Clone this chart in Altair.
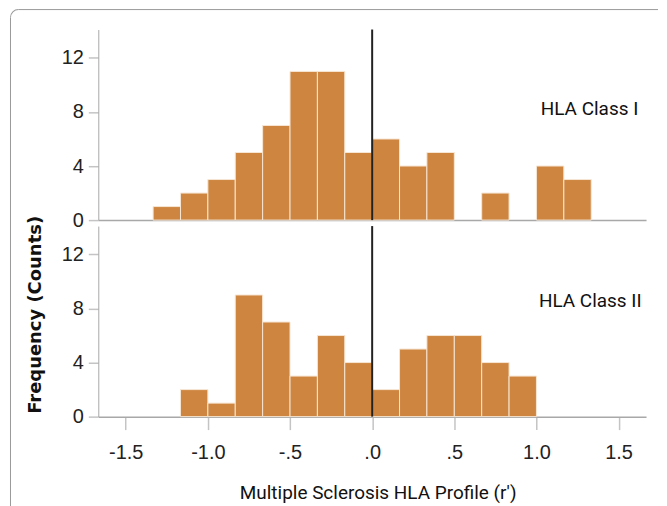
import altair as alt
import pandas as pd

# Histogram bins (width 1/6) and counts
bin_starts = [-1.3333, -1.1667, -1.0, -0.8333, -0.6667, -0.5, -0.3333, -0.1667,
              0.0, 0.1667, 0.3333, 0.5, 0.6667, 0.8333, 1.0, 1.1667]
bin_ends = [-1.1667, -1.0, -0.8333, -0.6667, -0.5, -0.3333, -0.1667, 0.0,
            0.1667, 0.3333, 0.5, 0.6667, 0.8333, 1.0, 1.1667, 1.3333]
class1_counts = [1, 2, 3, 5, 7, 11, 11, 5, 6, 4, 5, 0, 2, 0, 4, 3]
class2_counts = [0, 2, 1, 9, 7, 3, 6, 4, 2, 5, 6, 6, 4, 3, 0, 0]

panel_labels = ["HLA Class I", "HLA Class II"]
label_x = [1.62, 1.64]
label_y = [8.2, 8.55]

x_tick_values = [-1.5, -1.0, -0.5, 0.0, 0.5, 1.0, 1.5]
x_tick_labels = ["-1.5", "-1.0", "-.5", ".0", ".5", "1.0", "1.5"]
y_tick_values = [0, 4, 8, 12]

x_domain = [-1.667, 1.667]
y_domain = [0, 14.1]

BAR = "#CD853F"
AXIS_GRAY = "#a8a8a8"
FRAME_GRAY = "#9a9a9a"
TICK_FONT = "Liberation Sans Narrow, Arial Narrow, Liberation Sans, sans-serif"
TEXT_FONT = "Roboto, sans-serif"
YTITLE_FONT = "DejaVu Sans, sans-serif"

label_expr = " : ".join(
    f"datum.value == {v} ? '{t}'" for v, t in zip(x_tick_values, x_tick_labels)
) + " : ''"


def make_panel(counts, label, lx, ly, bottom, with_frame):
    df = pd.DataFrame({"start": bin_starts, "end": bin_ends, "count": counts})
    df = df[df["count"] > 0].copy()
    df["zero"] = 0

    if bottom:
        x_axis = alt.Axis(values=x_tick_values, labelExpr=label_expr, title="Multiple Sclerosis HLA Profile (r')",
                          grid=False, tickSize=13, tickColor="#c4c4c4", tickWidth=1.5,
                          domainColor=AXIS_GRAY, domainWidth=1.5, labelPadding=13,
                          labelFont=TICK_FONT, labelFontSize=20, labelColor="#222",
                          titleFont=TEXT_FONT, titleFontSize=19, titleFontWeight="normal",
                          titleColor="#111", titlePadding=21, titleX=280)
        y_title = "Frequency (Counts)"
    else:
        x_axis = alt.Axis(title=None, labels=False, ticks=False, grid=False,
                          domainColor=AXIS_GRAY, domainWidth=1.5)
        y_title = None

    y_kwargs = dict(values=y_tick_values, grid=False, tickSize=10, tickColor="#c4c4c4", tickWidth=1.5,
                    domainColor=AXIS_GRAY, domainWidth=1, labelPadding=5,
                    labelFont=TICK_FONT, labelFontSize=20, labelColor="#222")
    if y_title:
        y_axis = alt.Axis(title=y_title, titleFont=YTITLE_FONT, titleFontSize=18, titleFontWeight="bold",
                          titleColor="#111", titlePadding=17, titleY=88.5, **y_kwargs)
    else:
        y_axis = alt.Axis(title=None, **y_kwargs)

    bars = alt.Chart(df).mark_bar(color=BAR, stroke="#f7e6d4", strokeWidth=1).encode(
        x=alt.X("start:Q", scale=alt.Scale(domain=x_domain, nice=False, zero=False), axis=x_axis),
        x2="end:Q",
        y=alt.Y("count:Q", scale=alt.Scale(domain=y_domain, nice=False), axis=y_axis),
        y2="zero:Q",
    )
    rule = alt.Chart(pd.DataFrame({"start": [0.0]})).mark_rule(color="#222", strokeWidth=2).encode(
        x="start:Q"
    )
    text = alt.Chart(pd.DataFrame({"start": [lx], "count": [ly], "label": [label]})).mark_text(
        align="right", baseline="middle", font=TEXT_FONT, fontSize=19, fontWeight="normal", color="#111"
    ).encode(x="start:Q", y="count:Q", text="label:N")

    layers = [bars, rule, text]
    if with_frame:
        one = alt.Data(values=[{"f": 1}])
        top_line = alt.Chart(one).mark_rule(color=FRAME_GRAY, strokeWidth=1).encode(
            x=alt.value(-80), x2=alt.value(561), y=alt.value(-20)
        )
        left_line = alt.Chart(one).mark_rule(color=FRAME_GRAY, strokeWidth=1).encode(
            x=alt.value(-88), y=alt.value(-12), y2=alt.value(478)
        )
        corner = alt.Chart(one).mark_arc(
            color=FRAME_GRAY, innerRadius=7.5, outerRadius=8.5, theta=4.7124, theta2=6.2832
        ).encode(x=alt.value(-80), y=alt.value(-12))
        layers = [top_line, left_line, corner] + layers
    return alt.layer(*layers).properties(width=549, height=191)


top = make_panel(class1_counts, panel_labels[0], label_x[0], label_y[0], False, True)
bottom = make_panel(class2_counts, panel_labels[1], label_x[1], label_y[1], True, False)

chart = alt.vconcat(top, bottom, spacing=6, bounds="flush").properties(
    padding={"left": 1.5, "top": 0, "right": 0, "bottom": 0}
).configure_view(stroke="transparent")

chart.save("out.html", embed_options={"renderer": "svg", "actions": False})
